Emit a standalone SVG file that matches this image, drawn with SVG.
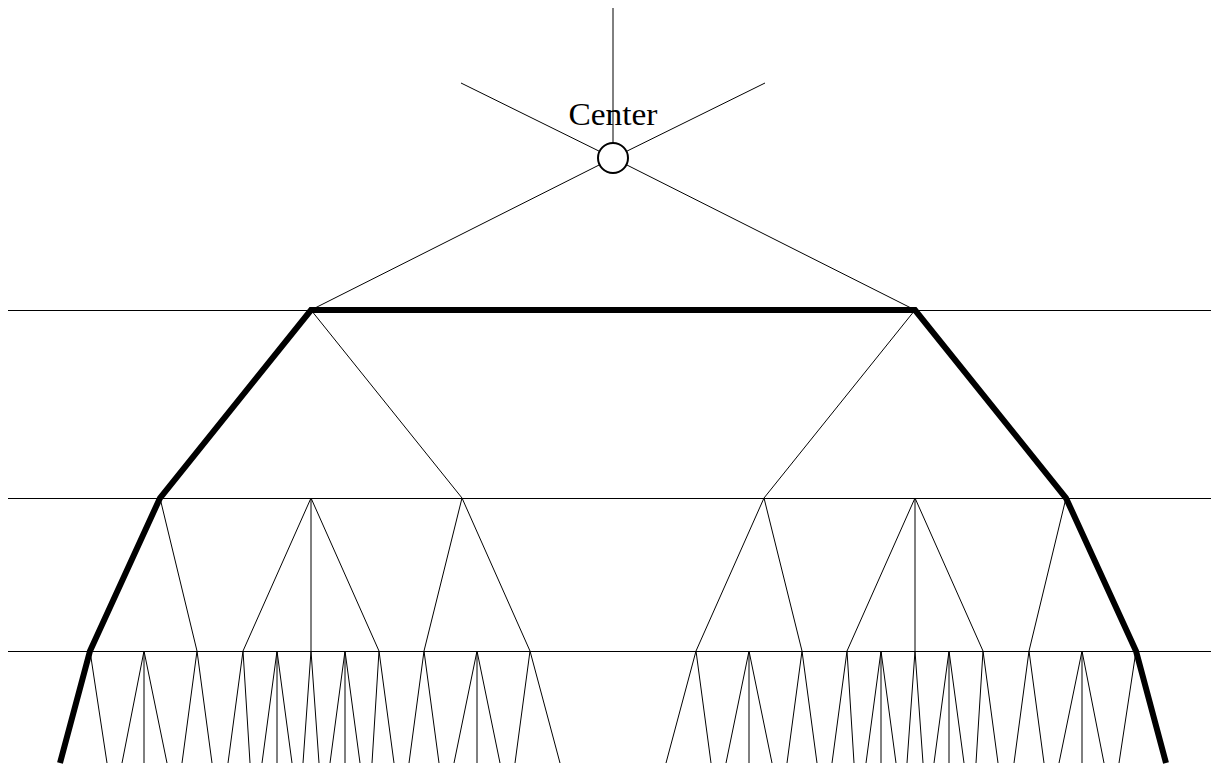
<svg xmlns="http://www.w3.org/2000/svg" width="1211" height="767" viewBox="0 0 1211 767">
<style>
.thin{fill:none;stroke:#000;stroke-width:1}
.thick{fill:none;stroke:#000;stroke-width:6;stroke-linejoin:miter;stroke-linecap:butt}
.node{fill:#fff;stroke:#000;stroke-width:2}
.lbl{font-family:"Liberation Serif","DejaVu Serif",serif;font-size:31px;fill:#000}
</style>
<rect width="1211" height="767" fill="#fff"/>
<g id="levels">
<path class="thin" d="M8 310.5H1211M8 498.5H1211M8 651.5H1211"/>
</g>
<g id="connectors">
<path class="thin" d="M613 8V158M461 83L613 158L765 83M311 310L613 158L915 310
M311 310L462 498M915 310L764 498
M160 498L197 651M311 498L243 651M311 498V651M311 498L379 651M462 498L424 651M462 498L530 651
M1066 498L1029 651M915 498L983 651M915 498V651M915 498L847 651M764 498L802 651M764 498L696 651
M90 651L107 763M144 651L122 763M144 651V763M144 651L167 763M197 651L182 763M197 651L212 763
M243 651L228 763M243 651L250 763M277 651L262 763M277 651V763M277 651L292 763M311 651L303 763M311 651L319 763
M345 651L330 763M345 651V763M345 651L360 763M379 651L372 763M379 651L394 763M424 651L409 763M424 651L439 763
M477 651L454 763M477 651V763M477 651L500 763M530 651L515 763M530 651L560 763
M1136 651L1119 763M1082 651L1104 763M1082 651V763M1082 651L1059 763M1029 651L1044 763M1029 651L1014 763
M983 651L998 763M983 651L976 763M949 651L964 763M949 651V763M949 651L934 763M915 651L923 763M915 651L907 763
M881 651L896 763M881 651V763M881 651L866 763M847 651L854 763M847 651L832 763M802 651L817 763M802 651L787 763
M749 651L772 763M749 651V763M749 651L726 763M696 651L711 763M696 651L666 763"/>
<path class="thick" d="M60 763L90 651L160 498L311 310L915 310L1066 498L1136 651L1166 763"/>
</g>
<g id="center">
<circle class="node" cx="613" cy="158" r="15"/>
<text class="lbl" x="613" y="125" text-anchor="middle" textLength="89" lengthAdjust="spacingAndGlyphs">Center</text>
</g>
</svg>
